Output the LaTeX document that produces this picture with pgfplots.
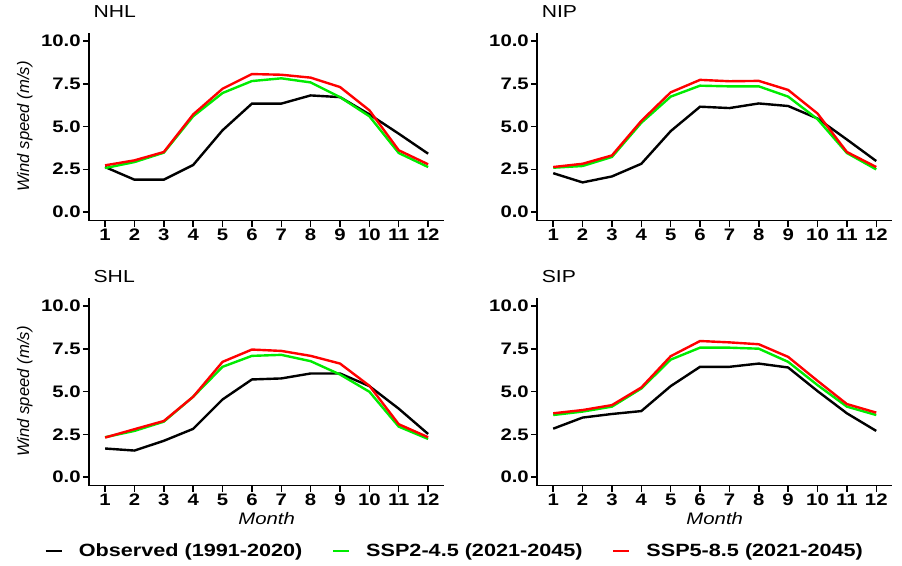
\documentclass[border=0pt]{standalone}
\usepackage{pgfplots}
\usepackage{pgfplotstable}
\pgfplotsset{compat=1.18}
\usepackage{fontspec}
\setmainfont{Liberation Sans}[FakeStretch=1.22]
\newfontfamily\ylabfont{Liberation Sans}

\definecolor{obs}{RGB}{0,0,0}
\definecolor{sspA}{RGB}{0,235,0}
\definecolor{sspB}{RGB}{255,0,0}

% month, observed, SSP2-4.5, SSP5-8.5
\pgfplotstableread{
m obs a b
1 2.63 2.57 2.73
2 1.89 2.92 3.02
3 1.89 3.47 3.51
4 2.75 5.60 5.71
5 4.78 6.96 7.21
6 6.34 7.66 8.07
7 6.34 7.82 8.03
8 6.82 7.58 7.86
9 6.72 6.72 7.31
10 5.71 5.60 5.95
11 4.58 3.45 3.61
12 3.41 2.63 2.79
}\nhl
\pgfplotstableread{
m obs a b
1 2.27 2.59 2.63
2 1.73 2.69 2.82
3 2.08 3.22 3.31
4 2.82 5.22 5.33
5 4.73 6.75 7.00
6 6.16 7.39 7.73
7 6.08 7.35 7.65
8 6.35 7.35 7.67
9 6.20 6.75 7.14
10 5.47 5.43 5.76
11 4.24 3.45 3.51
12 2.98 2.49 2.63
}\nip
\pgfplotstableread{
m obs a b
1 1.67 2.33 2.31
2 1.55 2.70 2.80
3 2.12 3.24 3.28
4 2.82 4.70 4.70
5 4.54 6.45 6.74
6 5.71 7.09 7.46
7 5.77 7.15 7.38
8 6.06 6.78 7.09
9 6.06 6.00 6.64
10 5.32 4.99 5.34
11 4.00 2.95 3.09
12 2.52 2.23 2.33
}\shl
\pgfplotstableread{
m obs a b
1 2.83 3.63 3.73
2 3.48 3.83 3.92
3 3.69 4.12 4.21
4 3.86 5.18 5.24
5 5.32 6.87 7.07
6 6.45 7.57 7.96
7 6.45 7.57 7.88
8 6.64 7.51 7.77
9 6.41 6.74 7.03
10 5.03 5.38 5.63
11 3.73 4.12 4.27
12 2.70 3.63 3.77
}\sip

\pgfplotsset{
  panel/.style={
    scale only axis,
    width=266.5pt, height=141pt,
    anchor=south west,
    xmin=0.45, xmax=12.55,
    ymin=-0.5, ymax=10.5,
    axis x line=bottom, axis y line=left,
    axis line style={-, line width=1.3pt},
    xtick={1,...,12},
    ytick={0,2.5,5,7.5,10},
    yticklabel style={/pgf/number format/.cd, fixed, fixed zerofill, precision=1},
    /pgf/number format/assume math mode=true,
    tick align=outside,
    major tick length=4.5pt,
    tick style={line width=1.1pt, black},
    tick label style={font=\bfseries\fontsize{12.5}{13}\selectfont, inner sep=1.5pt},
    title style={at={(axis description cs:0,1)}, anchor=base west, yshift=5pt,
      font=\fontsize{13}{15}\selectfont},
    every axis plot/.append style={line width=1.8pt, mark=none},
  },
  ylab/.style={
    ylabel={Wind speed (m/s)},
    ylabel style={at={(axis description cs:0,0.5)}, anchor=center, rotate=0, yshift=48pt,
      font=\ylabfont\itshape\fontsize{12.5}{14}\selectfont},
  },
  xlab/.style={
    xlabel={Month},
    xlabel style={at={(axis description cs:0.5,0)}, anchor=base, yshift=-29pt,
      font=\itshape\fontsize{12.5}{14}\selectfont},
  },
}

\begin{document}
\begin{tikzpicture}
\useasboundingbox (0,0) rectangle (676.5pt,424.5pt);

\begin{axis}[panel, ylab, title={NHL}, at={(66.7pt,259.1pt)}]
  \addplot[obs] table[x=m, y=obs] {\nhl};
  \addplot[sspA] table[x=m, y=a] {\nhl};
  \addplot[sspB] table[x=m, y=b] {\nhl};
\end{axis}

\begin{axis}[panel, title={NIP}, at={(402.8pt,259.1pt)}]
  \addplot[obs] table[x=m, y=obs] {\nip};
  \addplot[sspA] table[x=m, y=a] {\nip};
  \addplot[sspB] table[x=m, y=b] {\nip};
\end{axis}

\begin{axis}[panel, ylab, xlab, title={SHL}, at={(66.7pt,60.3pt)}]
  \addplot[obs] table[x=m, y=obs] {\shl};
  \addplot[sspA] table[x=m, y=a] {\shl};
  \addplot[sspB] table[x=m, y=b] {\shl};
\end{axis}

\begin{axis}[panel, xlab, title={SIP}, at={(402.8pt,60.3pt)},
  legend columns=3,
  legend style={draw=none, fill=none, at={(axis description cs:-0.231,-0.348)}, anchor=center,
    font=\bfseries\fontsize{13.3}{15}\selectfont,
    /tikz/every odd column/.append style={column sep=10pt},
    /tikz/every even column/.append style={column sep=20pt}},
  legend image code/.code={\draw[#1, line width=1.8pt] (0pt,0pt) -- (12pt,0pt);},
]
  \addplot[obs] table[x=m, y=obs] {\sip};
  \addplot[sspA] table[x=m, y=a] {\sip};
  \addplot[sspB] table[x=m, y=b] {\sip};
  \legend{Observed (1991-2020), SSP2-4.5 (2021-2045), SSP5-8.5 (2021-2045)}
\end{axis}
\end{tikzpicture}
\end{document}
